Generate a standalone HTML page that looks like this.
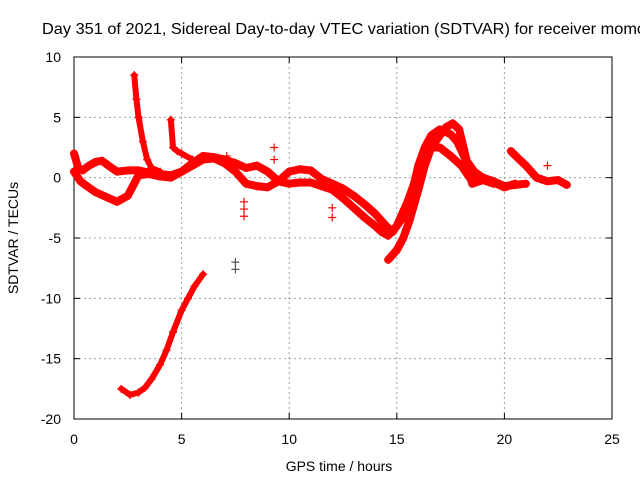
<!DOCTYPE html>
<html><head><meta charset="utf-8"><style>
html,body{margin:0;padding:0;background:#fff;width:640px;height:480px;overflow:hidden}
svg text{font-family:"Liberation Sans",sans-serif;font-size:14px;fill:#000}
</style></head><body>
<svg id="chart" width="640" height="480">
<text x="42" y="34" textLength="604" lengthAdjust="spacingAndGlyphs" style="font-size:16px">Day 351 of 2021, Sidereal Day-to-day VTEC variation (SDTVAR) for receiver momo</text>
<g id="grid"></g>
<g id="axes"></g>
<g id="series"></g>
<text x="339" y="471" text-anchor="middle">GPS time / hours</text>
<text transform="translate(18,238) rotate(-90)" text-anchor="middle">SDTVAR / TECUs</text>
</svg>
<script>
const xTicks=[0,5,10,15,20,25];
const yTicks=[10,5,0,-5,-10,-15,-20];
const trace1X=[0,0.2,0.4,0.7,1,1.3,1.6,2,2.5,3,3.5,4,4.5,5,5.5,6,6.5,7,7.5,8,8.5,9,9.5,10,10.5,11,11.5,12,12.5,13,13.5,14,14.5,14.8,15.2,15.6,16,16.3,16.6,17,17.5,17.8,18.2,18.6,19,19.5,20,20.5,21];
const trace1Y=[2,0.8,0.6,1,1.3,1.4,1,0.5,0.6,0.6,0.4,0.3,0.2,0.5,1,1.5,1.6,1.2,0.5,-0.5,-0.7,-0.8,-0.3,0.5,0.7,0.6,-0.1,-0.5,-0.9,-1.5,-2.2,-3,-4,-4.5,-3.5,-2,1,2.5,3.5,4,3.6,3,1.5,0.5,0,-0.3,-0.7,-0.6,-0.5];
const trace2X=[0,0.3,0.6,1,1.5,2,2.5,3,3.5,4,4.5,5,5.5,6,6.5,7,7.5,8,8.5,9,9.5,10,10.5,11,11.5,12,12.5,13,13.5,14,14.3,14.6,15,15.5,16,16.5,17,17.5,18,18.5,19,19.5,20,20.5];
const trace2Y=[0.5,-0.3,-0.7,-1.2,-1.6,-2,-1.5,0.2,0.3,0.1,0,0.5,1.2,1.8,1.7,1.5,1.2,0.8,1,0.5,-0.3,-0.5,-0.4,-0.4,-0.7,-1,-1.7,-2.5,-3.3,-4,-4.5,-4.8,-4,-2,0.5,2.5,2.5,1.8,1,-0.3,0,-0.4,-0.8,-0.5];
const trace3X=[14.6,15,15.3,15.6,16,16.3,16.6,17,17.3,17.6,17.9,18.1,18.3,18.5,19,19.5];
const trace3Y=[-6.8,-6,-5,-3.5,-1,1,2.5,3.5,4.2,4.5,4,2.5,1,-0.5,-0.2,-0.5];
const trace4X=[20.3,20.7,21,21.5,22,22.5,22.9];
const trace4Y=[2.2,1.5,1,0,-0.3,-0.2,-0.6];
const trace5X=[2.8,2.9,3,3.2,3.4,3.6,4];
const trace5Y=[8.5,6.5,5,3,1.5,0.8,0.5];
const trace6X=[4.5,4.6,4.8,5,5.5];
const trace6Y=[4.8,2.5,2.2,2,1.5];
const trace7X=[2.2,2.6,3,3.3,3.6,4,4.3,4.6,5,5.3,5.6,6];
const trace7Y=[-17.5,-18,-17.8,-17.4,-16.7,-15.5,-14.3,-12.8,-11,-10,-9,-8];
const outlierX=[7.5,7.5,7.9,7.9,7.9,9.3,9.3,12,12,2.5,22,7.1];
const outlierY=[-7,-7.6,-2,-2.6,-3.2,2.5,1.5,-2.5,-3.3,-1.5,1,1.8];
const NS='http://www.w3.org/2000/svg';
const X0=74,X1=612,Y0=419,Y1=57;
const xs=v=>X0+(v-0)/25*(X1-X0);
const ys=v=>Y0-(v+20)/30*(Y0-Y1);
const grid=document.getElementById('grid'),axes=document.getElementById('axes'),ser=document.getElementById('series');
function mk(t,a,p){const e=document.createElementNS(NS,t);for(const k in a)e.setAttribute(k,a[k]);p.appendChild(e);return e;}
xTicks.forEach(t=>{const x=xs(t);
 if(t>0&&t<25){const l=mk('line',{x1:x,x2:x,y1:Y1,y2:Y0,stroke:'#a0a0a0','stroke-dasharray':'2,3'},grid);
 
 }
 const tx=mk('text',{x:x,y:Y0+25,'text-anchor':'middle'},axes);tx.textContent=t;
 
 
 mk('line',{x1:x,x2:x,y1:Y0,y2:Y0-6,stroke:'#000'},axes);mk('line',{x1:x,x2:x,y1:Y1,y2:Y1+6,stroke:'#000'},axes);});
yTicks.forEach(t=>{const y=ys(t);
 if(t>-20&&t<10){const l=mk('line',{x1:X0,x2:X1,y1:y,y2:y,stroke:'#a0a0a0','stroke-dasharray':'2,3'},grid);
 
 }
 const tx=mk('text',{x:X0-13,y:y+5,'text-anchor':'end'},axes);tx.textContent=t;
 
 
 mk('line',{x1:X0,x2:X0+6,y1:y,y2:y,stroke:'#000'},axes);mk('line',{x1:X1,x2:X1-6,y1:y,y2:y,stroke:'#000'},axes);});
const fr=mk('rect',{x:X0,y:Y1,width:X1-X0,height:Y0-Y1,fill:'none',stroke:'#000'},axes);


function plus(x,y){mk('path',{d:`M${x-4},${y}h8M${x},${y-4}v8`,stroke:'#f00','stroke-width':1.5},ser);}
[[trace1X,trace1Y],[trace2X,trace2Y],[trace3X,trace3Y],[trace4X,trace4Y],[trace5X,trace5Y],[trace6X,trace6Y],[trace7X,trace7Y]].forEach((tr,i)=>{
 const pts=tr[0].map((v,j)=>xs(v)+','+ys(tr[1][j])).join(' ');
 const pl=mk('polyline',{points:pts,fill:'none',stroke:'#f00','stroke-width':i>=4?6:8,'stroke-linejoin':'round','stroke-linecap':'round'},ser);
 
 
 tr[0].forEach((v,j)=>plus(xs(v),ys(tr[1][j])));
});
outlierX.forEach((v,j)=>{const x=xs(v),y=ys(outlierY[j]);
 const p=mk('path',{d:`M${x-4},${y}h8M${x},${y-4}v8`,stroke:j<2?'#555':'#f00','stroke-width':1.2},ser);
 
 });
</script>
</body></html>
